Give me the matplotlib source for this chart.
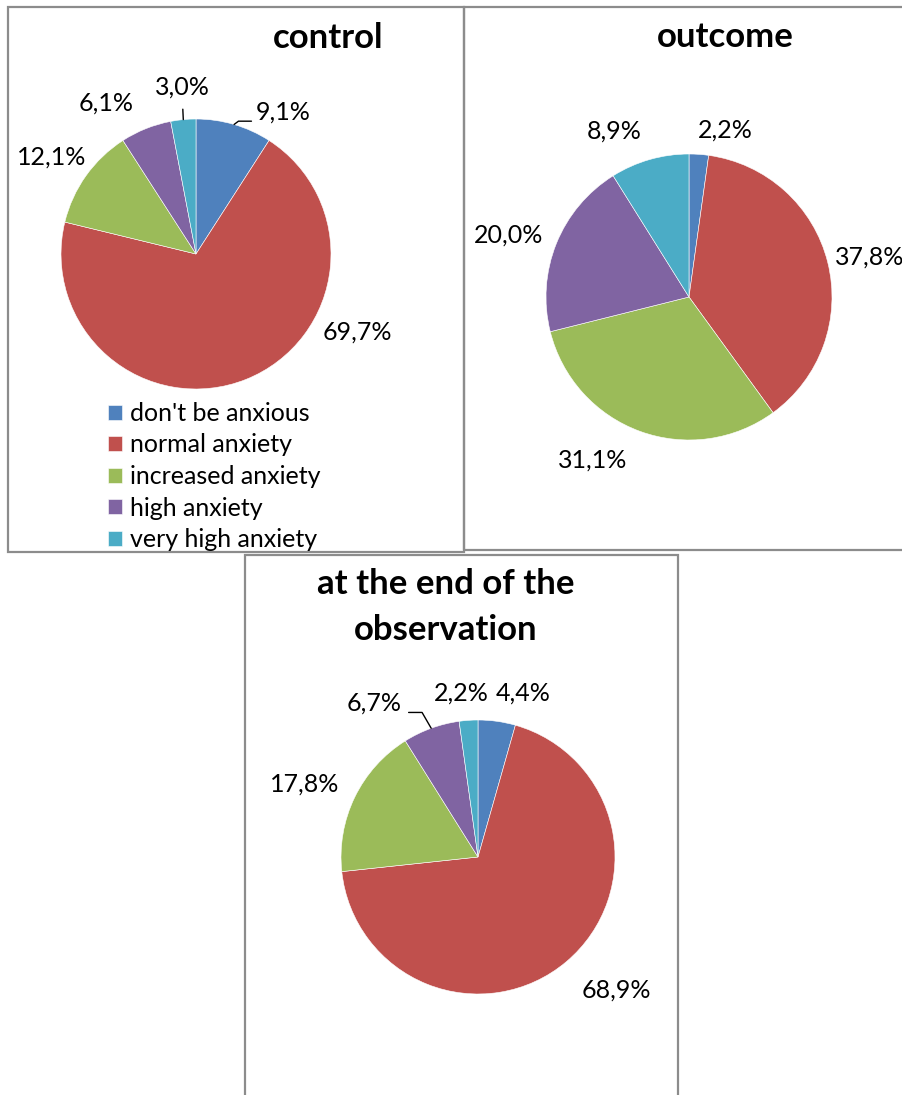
import numpy as np
import matplotlib
matplotlib.use('Agg')
import matplotlib.pyplot as plt
from matplotlib.patches import Rectangle

plt.rcParams['font.family'] = ['Lato', 'DejaVu Sans']

# anxiety levels, share of patients in %
categories = ["don't be anxious", 'normal anxiety', 'increased anxiety',
              'high anxiety', 'very high anxiety']
control = [9.1, 69.7, 12.1, 6.1, 3.0]
outcome = [2.2, 37.8, 31.1, 20.0, 8.9]
end_obs = [4.4, 68.9, 17.8, 6.7, 2.2]
titles = ['control', 'outcome', 'at the end of the\nobservation']

colors = ['#4F81BD', '#C0504D', '#9BBB59', '#8064A2', '#4BACC6']
frame_col = '#8c8c8c'

W, H = 903, 1095
fig = plt.figure(figsize=(W / 100, H / 100), dpi=100)


def fx(x):
    return x / W


def fy(y):
    return 1 - y / H


# boxes around each chart: left, top, right, bottom in pixels
frames = [(8, 7, 464, 552), (464, 7, 915, 550), (245, 555, 678, 1110)]
for l, t, r, b in frames:
    fig.add_artist(Rectangle((fx(l), fy(b)), fx(r) - fx(l), fy(t) - fy(b),
                             transform=fig.transFigure, fill=False,
                             edgecolor=frame_col, lw=1.6))

PT = 0.72  # px -> pt at 100 dpi
LABEL_FS = 18


def draw_pie(values, cx, cy, r, offsets, leaders):
    ax = fig.add_axes([fx(cx - r), fy(cy + r), 2 * r / W, 2 * r / H])
    wedges, _ = ax.pie(values, colors=colors, startangle=90, counterclock=False,
                       radius=1, wedgeprops=dict(linewidth=0.4, edgecolor='white'))
    ax.set_xlim(-1, 1)
    ax.set_ylim(-1, 1)
    ax.set_aspect('equal')
    ax.axis('off')
    for w, v, (dx, dy), lead in zip(wedges, values, offsets, leaders):
        ang = np.deg2rad((w.theta1 + w.theta2) / 2)
        xy = (np.cos(ang), np.sin(ang))
        label = f'{v:.1f}%'.replace('.', ',')
        kw = {}
        if lead is not None:
            relpos, conn, sa, sb = lead
            kw['arrowprops'] = dict(arrowstyle='-', color='black', lw=1.0,
                                    relpos=relpos, connectionstyle=conn,
                                    shrinkA=sa, shrinkB=sb)
        ax.annotate(label, xy=xy, xytext=(dx * PT, dy * PT),
                    textcoords='offset points', ha='center', va='center',
                    fontsize=LABEL_FS, color='black', **kw)
    return wedges


wedges = draw_pie(control, 196, 254, 135,
                  [(49, 12.5), (111, 47), (-34, 19), (-40, 26), (-1, 33)],
                  [((0, 0.1), 'angle,angleA=0,angleB=37,rad=0', 1, 0),
                   None, None, None,
                   ((0.5, 0), 'arc3', 6, 0)])
draw_pie(outcome, 689, 297, 143,
         [(26, 24), (42, 5), (-47, -29), (-48, 8.5), (-35, 28)],
         [None] * 5)
draw_pie(end_obs, 478, 857, 137,
         [(26, 28), (50, -28), (-50, 13), (-57, 25), (-7.5, 27)],
         [None, None, None,
          ((1, 0.1), 'angle,angleA=0,angleB=-60,rad=0', 3, 0),
          None])

fig.text(fx(328), fy(38), titles[0], ha='center', va='center',
         fontsize=25, fontweight='bold')
fig.text(fx(725), fy(37), titles[1], ha='center', va='center',
         fontsize=25, fontweight='bold')
fig.text(fx(446), fy(607), titles[2], ha='center', va='center',
         fontsize=25, fontweight='bold', linespacing=1.55)

fig.legend(wedges, categories, loc='upper left',
           bbox_to_anchor=(fx(108), fy(402)), frameon=False,
           handlelength=0.55, handleheight=0.55, handletextpad=0.35,
           labelspacing=0.34, fontsize=LABEL_FS, borderaxespad=0, borderpad=0)

fig.savefig('out.png', dpi=100)
